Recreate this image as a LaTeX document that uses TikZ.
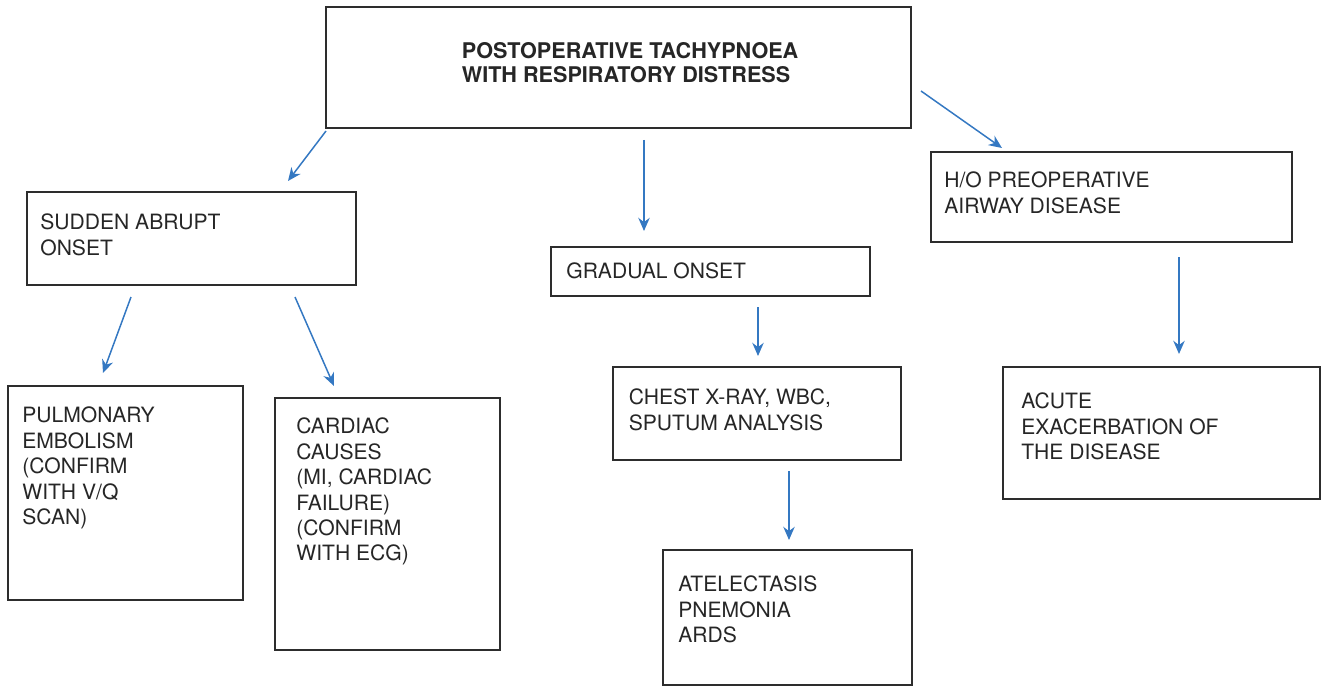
\documentclass[tikz,border=0pt]{standalone}
\usepackage{fontspec}
\setmainfont{TeX Gyre Heros}
\usetikzlibrary{arrows.meta}
\definecolor{arrowblue}{RGB}{52,120,194}
\definecolor{boxline}{RGB}{45,45,45}
\tikzset{
  box/.style 2 args={draw=boxline, line width=1.2pt, rectangle, inner sep=0pt,
    minimum width=#1*0.02cm, minimum height=#2*0.02cm},
  label/.style={anchor=north west, inner sep=0pt, align=left, text=black!85,
    font=\fontsize{12}{14.5}\selectfont},
  title/.style={anchor=north west, inner sep=0pt, align=left, text=black!85,
    font=\fontsize{12.3}{13.4}\selectfont\bfseries},
  link/.style={draw=arrowblue, line width=0.85pt, -{Stealth[length=7.5pt,width=6.5pt]}}
}
\begin{document}
\begin{tikzpicture}[x=0.02cm,y=-0.02cm]
\useasboundingbox (0,0) rectangle (1322,686);
% boxes
\node[box={585}{121}] (top) at (618.5,67.5) {};
\node[box={329}{93}] (sudden) at (191.5,238.5) {};
\node[box={319}{49}] (gradual) at (710.5,271.5) {};
\node[box={361}{90}] (ho) at (1111.5,197) {};
\node[box={235}{214}] (pulm) at (125.5,493) {};
\node[box={225}{252}] (card) at (387.5,524) {};
\node[box={288}{93}] (chest) at (757,413.5) {};
\node[box={249}{135}] (atel) at (787.5,617.5) {};
\node[box={317}{132}] (acute) at (1161.5,433) {};
% texts
\node[title] (ttop) at (461.5,42.5) {POSTOPERATIVE TACHYPNOEA\\WITH RESPIRATORY DISTRESS};
\node[label] (tsudden) at (40,213.5) {SUDDEN ABRUPT\\ONSET};
\node[label] (tgradual) at (566,262.5) {GRADUAL ONSET};
\node[label] (tho) at (944,171.5) {H/O PREOPERATIVE\\AIRWAY DISEASE};
\node[label] (tpulm) at (22,406.5) {PULMONARY\\EMBOLISM\\(CONFIRM\\WITH V/Q\\SCAN)};
\node[label] (tcard) at (296,417.5) {CARDIAC\\CAUSES\\(MI, CARDIAC\\FAILURE)\\(CONFIRM\\WITH ECG)};
\node[label] (tchest) at (628.5,388.5) {CHEST X-RAY, WBC,\\SPUTUM ANALYSIS};
\node[label] (tatel) at (678,575.5) {ATELECTASIS\\PNEMONIA\\ARDS};
\node[label] (tacute) at (1021,392.5) {ACUTE\\EXACERBATION OF\\THE DISEASE};
% arrow end points
\coordinate (s1) at (326,131); \coordinate (e1) at (288,181);
\coordinate (s2) at (644,140); \coordinate (e2) at (644,231);
\coordinate (s3) at (921,91);  \coordinate (e3) at (1002,148);
\coordinate (s4) at (131,297); \coordinate (e4) at (103,373);
\coordinate (s5) at (295,297); \coordinate (e5) at (334,386);
\coordinate (s6) at (758,307); \coordinate (e6) at (758,356);
\coordinate (s7) at (789,471); \coordinate (e7) at (789,540);
\coordinate (s8) at (1179,257); \coordinate (e8) at (1179,354);
\foreach \i in {1,...,8} {\draw[link] (s\i) -- (e\i);}
\end{tikzpicture}
\end{document}
